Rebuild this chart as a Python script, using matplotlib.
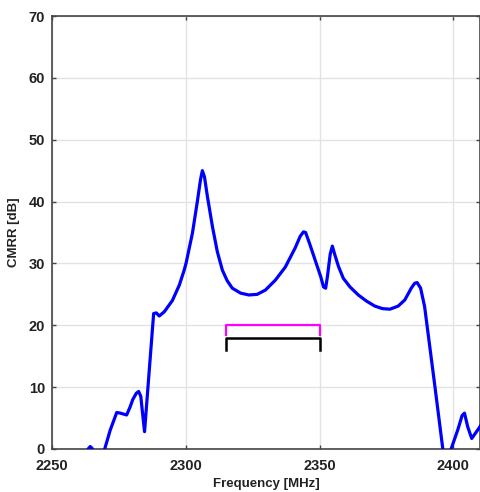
import numpy as np
import matplotlib.pyplot as plt

# CMRR curve
freq = [2262, 2263.5, 2264.3, 2265.2, 2266.5, 2268.5, 2269.7, 2271.8, 2274.2, 2275.5,
        2277.9, 2279.2, 2280.2, 2281.5, 2282.4, 2283.2, 2283.8, 2284.6, 2286.3, 2288.0,
        2289.0, 2290.1, 2292.0, 2295.0, 2297.6, 2299.4, 2300.1, 2302.5, 2304.4, 2305.5,
        2306.2, 2307.0, 2308.1, 2310.0, 2311.8, 2313.7, 2315.5, 2317.4, 2320.5, 2323.6,
        2326.7, 2329.8, 2333.5, 2337.2, 2340.9, 2342.8, 2344.0, 2344.8, 2346.3, 2348.4,
        2350.5, 2351.5, 2352.3, 2353.0, 2354.0, 2354.8, 2355.8, 2357.1, 2358.9, 2361.4,
        2364.5, 2367.6, 2370.7, 2373.5, 2376.3, 2379.4, 2381.9, 2384.3, 2385.6, 2386.5,
        2387.8, 2389.3, 2393.0, 2396.1, 2397.6, 2399.2, 2401.7, 2403.3, 2404.2, 2405.4,
        2406.9, 2409.5, 2411.0]
cmrr = [-3, 0.0, 0.4, 0.0, -3, -3, 0.0, 3.1, 5.9, 5.8,
        5.5, 6.8, 8.0, 9.0, 9.3, 8.5, 6.0, 2.8, 12.4, 21.9,
        22.0, 21.5, 22.2, 24.0, 26.5, 28.9, 30.0, 34.9, 40.2, 43.5,
        45.0, 44.0, 40.8, 35.9, 31.9, 28.9, 27.2, 26.0, 25.2, 24.9,
        25.0, 25.7, 27.3, 29.4, 32.5, 34.4, 35.1, 35.0, 33.2, 30.5,
        27.8, 26.2, 26.0, 28.0, 31.5, 32.8, 31.3, 29.5, 27.6, 26.2,
        24.9, 23.9, 23.1, 22.7, 22.6, 23.1, 24.1, 26.0, 26.8, 26.9,
        26.0, 23.0, 10.6, 0.0, -3, 0.0, 3.1, 5.4, 5.8, 3.6,
        1.7, 3.3, 4.3]

# band brackets
band_x = [2315, 2315, 2350, 2350]
band_top = [18.4, 20, 20, 18.4]
band_low = [16, 18, 18, 16]

fig = plt.figure(figsize=(4.81, 4.92), dpi=100)
ax = fig.add_axes([52/481, 43/492, 428/481, 433/492])

ax.plot(freq, cmrr, color='#0000ff', lw=2.3, solid_joinstyle='round', zorder=3)
ax.plot(band_x, band_top, color='#ff00ff', lw=1.6, zorder=3)
ax.plot(band_x, band_low, color='black', lw=1.8, zorder=3)

ax.set_xlim(2250, 2410)
ax.set_ylim(0, 70)
ax.set_xticks([2250, 2300, 2350, 2400])
ax.set_yticks(np.arange(0, 71, 10))
ax.grid(True, color='#e3e3e3', lw=1)
ax.set_axisbelow(True)
ax.tick_params(direction='in', top=True, right=True, length=3, width=1,
               color='#444444', labelsize=10.5)
ax.tick_params(axis='x', pad=7)
ax.tick_params(axis='y', pad=5)
for lab in ax.get_xticklabels() + ax.get_yticklabels():
    lab.set_fontfamily('Liberation Sans')
    lab.set_fontweight('bold')
    lab.set_color('#222222')
for sp in ax.spines.values():
    sp.set_color('#444444')
    sp.set_linewidth(1.2)

ax.set_xlabel('Frequency [MHz]', fontsize=9.5, fontweight='bold',
              family='Liberation Sans', color='#222222', labelpad=4)
ax.set_ylabel('CMRR [dB]', fontsize=9.5, fontweight='bold',
              family='Liberation Sans', color='#222222', labelpad=6)

fig.savefig('out.png', dpi=100)
